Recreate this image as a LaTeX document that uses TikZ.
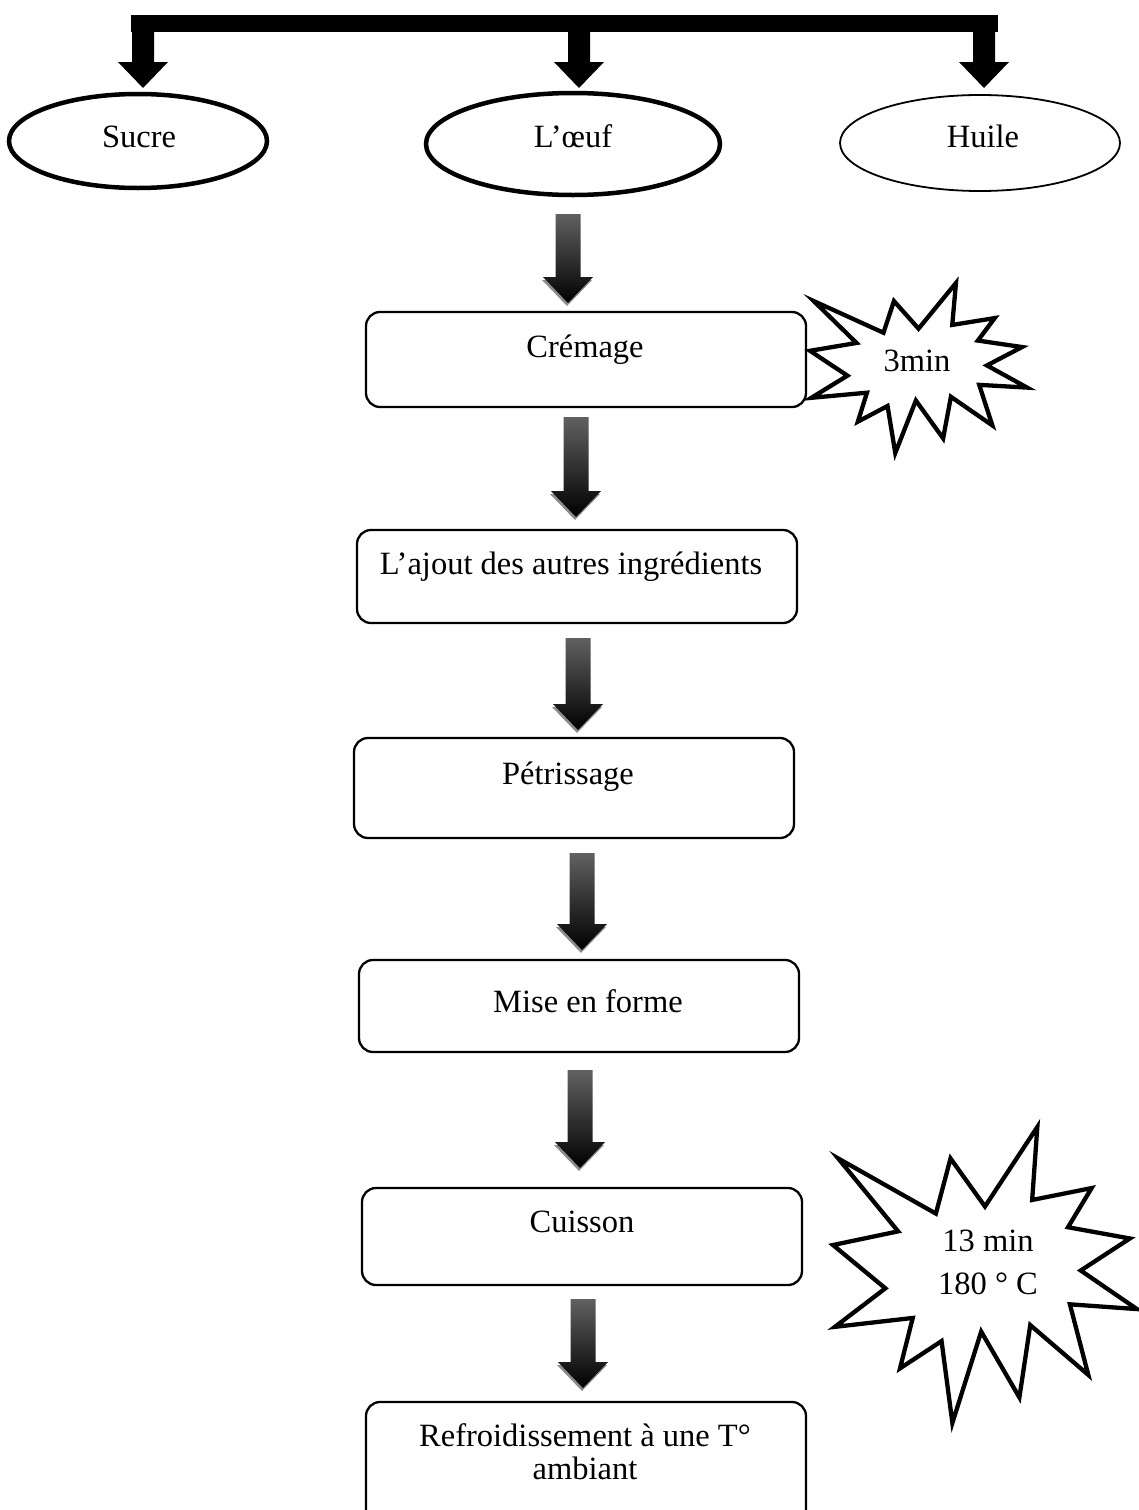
\documentclass[tikz,border=0pt]{standalone}
\usepackage{fontspec}
\setmainfont{Liberation Serif}
\usetikzlibrary{shapes.geometric}
\tikzset{
  lbl/.style={font=\fontsize{32.5}{38}\selectfont, inner sep=0pt, anchor=base},
  ingr/.style={draw, ellipse, inner sep=0pt},
  stepbox/.style={draw, line width=2.3pt, rounded corners=14pt, minimum width=440pt, inner sep=0pt},
  starline/.style={draw, line width=4.3pt, miter limit=20, fill=white},
}
% shaded block arrow: #1 centre x, #2 top y, #3 tip y
\newcommand\blockarrow[3]{%
  \fill[black!45] ({#1-1},{#3-26+3}) -- ({#1-25-1},{#3-26+3}) -- ({#1-1},{#3+3}) -- ({#1+25-1},{#3-26+3}) -- cycle;
  \shade[top color=black!62, bottom color=black]
    ({#1-12.5},#2) -- ({#1+12.5},#2) -- ({#1+12.5},{#3-26}) -- ({#1+25},{#3-26})
    -- (#1,#3) -- ({#1-25},{#3-26}) -- ({#1-12.5},{#3-26}) -- cycle;
}
% explosion shape: #1,#2 top-left, #3 xscale, #4 yscale
\newcommand\explosion[4]{%
  \begin{scope}[shift={(#1,#2)}, xscale=#3, yscale=#4]
    \path[starline] (108,58) -- (145.22,0) -- (141.55,53.25) -- (183.80,44.57) -- (167.02,73.15)
      -- (210.97,81.37) -- (176.07,104.75) -- (216,132.90) -- (168.37,129.42) -- (181.45,180.95)
      -- (140.20,144.57) -- (132.47,197.37) -- (105.32,149.35) -- (84.85,216) -- (77.15,156.27)
      -- (47.62,176.17) -- (56.67,139.37) -- (1.35,145.87) -- (37.22,117.75) -- (0,86.15)
      -- (46.27,76.17) -- (3.70,22.95) -- (73.12,63.20) -- (83.52,22.95) -- cycle;
  \end{scope}%
}
\begin{document}
\begin{tikzpicture}[x=1pt, y=-1pt]
\useasboundingbox (0,0) rectangle (1138,1510);

% top distribution bar
\fill[black] (131,15) rectangle (998,32);
\foreach \cx/\nm in {143/a, 579/b, 984/c}{
  \fill[black] ({\cx-11},20) -- ({\cx+11},20) -- ({\cx+11},62) -- ({\cx+25},62) -- (\cx,88)
     -- ({\cx-25},62) -- ({\cx-11},62) -- cycle;
}

% ingredients
\node[ingr, line width=4.5pt, minimum width=258pt, minimum height=94pt] (sucre) at (138,141) {};
\node[ingr, line width=4.5pt, minimum width=294pt, minimum height=102pt] (oeuf) at (573,144) {};
\node[ingr, line width=1.8pt, minimum width=280pt, minimum height=96pt] (huile) at (980,143) {};
\node[lbl] (tsucre) at (139,147) {Sucre};
\node[lbl] (toeuf) at (573,147) {L’œuf};
\node[lbl] (thuile) at (983,147) {Huile};

% process steps
\node[stepbox, minimum height=95pt] (creme) at (586,359.5) {};
\node[stepbox, minimum height=93pt] (ajout) at (577,576.5) {};
\node[stepbox, minimum height=100pt] (petri) at (574,788) {};
\node[stepbox, minimum height=92pt] (mise) at (579,1006) {};
\node[stepbox, minimum height=97pt] (cuisson) at (582,1236.5) {};
\node[stepbox, minimum height=130pt] (refroid) at (586,1467) {};

\node[lbl] (tcreme) at (585,357) {Crémage};
\node[lbl] (tajout) at (571,574) {L’ajout des autres ingrédients};
\node[lbl] (tpetri) at (568,784) {Pétrissage};
\node[lbl] (tmise) at (588,1012) {Mise en forme};
\node[lbl] (tcuisson) at (582,1232) {Cuisson};
\node[lbl] (tref1) at (585,1446) {Refroidissement à une T°};
\node[lbl] (tref2) at (585,1479) {ambiant};

% block arrows
\blockarrow{568}{214}{303}
\blockarrow{576}{417}{517}
\blockarrow{578}{638}{730}
\blockarrow{582}{853}{950}
\blockarrow{580}{1070}{1168}
\blockarrow{583}{1299}{1388}

% explosions
\explosion{810}{283}{1.005}{0.787}
\node[lbl] (t3min) at (917,371) {3min};
\explosion{833}{1127}{1.407}{1.370}
\node[lbl] (t13) at (988,1251) {13 min};
\node[lbl] (t180) at (988,1294) {180 ° C};
\end{tikzpicture}
\end{document}
